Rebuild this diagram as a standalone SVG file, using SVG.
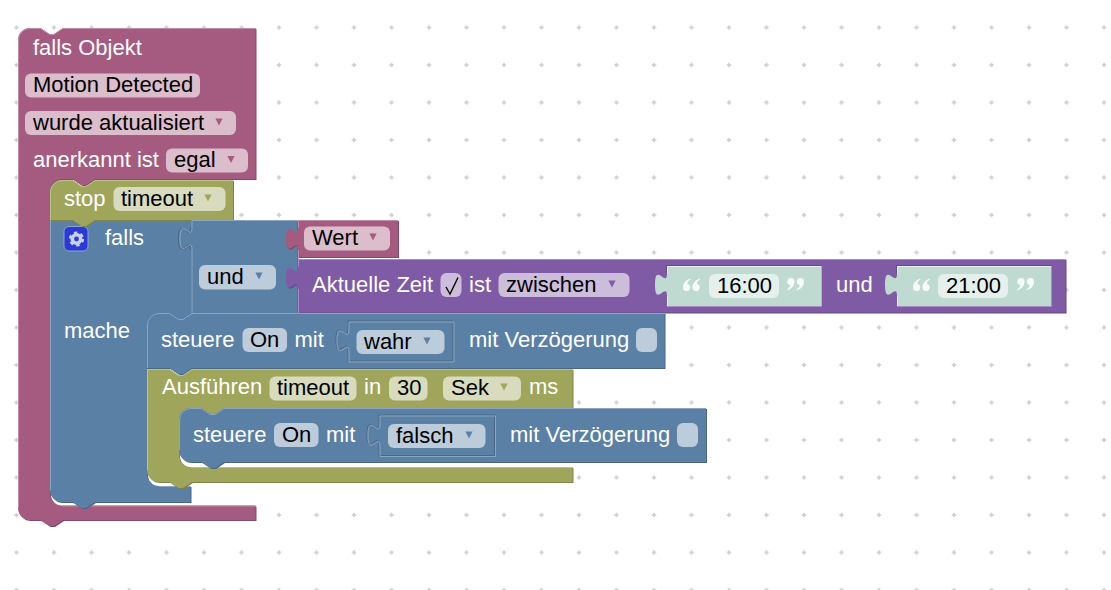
<svg xmlns="http://www.w3.org/2000/svg" width="1111" height="590" viewBox="0 0 1111 590">
<style>
text{font-family:"Liberation Sans",Arial,sans-serif;font-size:22px}
.t{fill:#fff}
.k{fill:#000}
.fld{fill:#fff;fill-opacity:.6}
.pink{fill:#a55b80}.pink-d{fill:#844966}.pink-l{fill:none;stroke:#c08ca6;stroke-width:1}
.blue{fill:#5b80a5}.blue-d{fill:#496684}.blue-l{fill:none;stroke:#8ca6c0;stroke-width:1}
.oliv{fill:#9fa55b}.oliv-d{fill:#7f8449}.oliv-l{fill:none;stroke:#bcc08c;stroke-width:1}
.purp{fill:#805ba5}.purp-d{fill:#664984}.purp-l{fill:none;stroke:#a68cc0;stroke-width:1}
.grn{fill:#bfdad0}.grn-l{fill:none;stroke:#e3efea;stroke-width:1}
.q{fill:#fff;fill-opacity:.85}
.dk{fill:none;stroke:#496684;stroke-width:1}
.pdk{fill:none;stroke:#664984;stroke-width:1}
.pli{fill:none;stroke:#a68cc0;stroke-width:1}
</style>
<defs>
<pattern id="grid" patternUnits="userSpaceOnUse" x="-2.25" y="8.75" width="37.5" height="37.5">
<path d="M16.5,18.75H21M18.75,16.5V21" stroke="#ccc" stroke-width="1.5" fill="none"/>
</pattern>
<path id="tri" d="M-3.6,-3.6H3.6L0,3.6Z"/>
<path id="qm" d="M7.3,0.5C3,2 0,5 0,9.5A3.6,3.6 0 1 0 4.4,6C4.4,4 5.6,2.6 7.6,1.6Z"/>
<g id="qo"><use href="#qm"/><use href="#qm" x="9.5"/></g>
<g id="qc"><use href="#qo" transform="rotate(180)"/></g>
<path id="s-hat" d="M18,40a12,12 0 0 1 12,-12H40.500l9,6h4.500l9,-6H255.500V179H95l-9,6h-4.500l-9,-6H62a12,12 0 0 0 -12,12V493.500a12,12 0 0 0 12,12H255.500V520H63l-9,6h-4.500l-9,-6H30a12,12 0 0 1 -12,-12Z"/>
<path id="s-stop" d="M50,192a12,12 0 0 1 12,-12H72.500l9,6h4.500l9,-6H233V220H95l-9,6h-4.500l-9,-6H50Z"/>
<path id="s-if" d="M50,220H191.500V313H192l-9,6h-4.500l-9,-6H159a12,12 0 0 0 -12,12V474a12,12 0 0 0 12,12H190.500V502H95l-9,6h-4.500l-9,-6H62a12,12 0 0 1 -12,-12Z"/>
<path id="s-und" d="M191.500,220H297.500V313H191.500V250c0,-15 -12,12 -12,-11.250s12,3.750 12,-11.250Z"/>
<path id="s-wert" d="M298,220H398V257H298V250c0,-15 -12,12 -12,-11.250s12,3.750 12,-11.250Z"/>
<path id="s-zeit" d="M298,259H1065.500V312.500H298V289c0,-15 -12,12 -12,-11.250s12,3.750 12,-11.250Z"/>
<path id="s-t1" d="M667,266H821.500V306H667V296c0,-15 -12,12 -12,-11.250s12,3.750 12,-11.250Z"/>
<path id="s-t2" d="M897,266H1051V306H897V296c0,-15 -12,12 -12,-11.250s12,3.750 12,-11.250Z"/>
<path id="s-ctl1" d="M147,325a12,12 0 0 1 12,-12H169.500l9,6h4.500l9,-6H664.500V368H192l-9,6h-4.500l-9,-6H147Z"/>
<path id="s-wahr" d="M349,322H454V362H349V352c0,-15 -12,12 -12,-11.250s12,3.750 12,-11.250Z"/>
<path id="s-exec" d="M147,369H169.500l9,6h4.500l9,-6H572.500V408H224l-9,6h-4.500l-9,-6H191a12,12 0 0 0 -12,12V455a12,12 0 0 0 12,12H572.500V482H192l-9,6h-4.500l-9,-6H159a12,12 0 0 1 -12,-12Z"/>
<path id="s-ctl2" d="M179,420a12,12 0 0 1 12,-12H201.500l9,6h4.500l9,-6H706V462H224l-9,6h-4.500l-9,-6H191a12,12 0 0 1 -12,-12Z"/>
<path id="s-falsch" d="M380,416H495.500V456.500H380V446.500c0,-15 -12,12 -12,-11.250s12,3.750 12,-11.250Z"/>
</defs>
<rect width="1111" height="590" fill="#fff"/>
<rect id="workspace-grid" width="1111" height="590" fill="url(#grid)"/>

<g id="block-falls-objekt">
<use href="#s-hat" class="pink-d" transform="translate(1,1)"/>
<use href="#s-hat" class="pink"/>
<path class="pink-l" d="M18.500,508V40a11.500,11.500 0 0 1 11.500,-11.500H40.500l9,6h4.500l9,-6H255.500M62,506H255.500"/>
<text class="t" x="33" y="55">falls Objekt</text>
<rect class="fld" x="25" y="73.500" width="175" height="24" rx="6"/>
<text class="k" x="33" y="92">Motion Detected</text>
<rect class="fld" x="25" y="111" width="211" height="24" rx="6"/>
<text class="k" x="33" y="129.500">wurde aktualisiert</text>
<use href="#tri" x="219" y="122" class="pink"/>
<text class="t" x="33" y="167">anerkannt ist</text>
<rect class="fld" x="166" y="148.500" width="82" height="24" rx="6"/>
<text class="k" x="174" y="167">egal</text>
<use href="#tri" x="231" y="159.500" class="pink"/>
</g>

<g id="block-falls">
<use href="#s-if" class="blue-d" transform="translate(1,1)"/>
<use href="#s-if" class="blue"/>
<path class="blue-l" d="M50.500,490V220.500H191M159,486.500H190"/>
<rect x="64" y="226.500" width="24" height="24.500" rx="5" fill="#2a38dc" stroke="#8ca6c0" stroke-width="1"/>
<circle cx="76.500" cy="239" r="4.200" fill="none" stroke="#c5d3e3" stroke-width="3.600"/>
<circle cx="76.500" cy="239" r="6.400" fill="none" stroke="#c5d3e3" stroke-width="2.400" stroke-dasharray="3.400 3.300"/>
<text class="t" x="105" y="245">falls</text>
<text class="t" x="64" y="338">mache</text>
</g>

<g id="block-stop">
<use href="#s-stop" class="oliv-d" transform="translate(1,1)"/>
<use href="#s-stop" class="oliv"/>
<path class="oliv-l" d="M50.500,220V192a11.500,11.500 0 0 1 11.500,-11.500H72.500l9,6h4.500l9,-6H232.500"/>
<text class="t" x="64" y="206">stop</text>
<rect class="fld" x="113.500" y="187" width="112" height="24" rx="6"/>
<text class="k" x="121" y="205.500">timeout</text>
<use href="#tri" x="208" y="198" class="oliv"/>
</g>

<g id="block-und">
<use href="#s-und" class="blue-d" transform="translate(1,1)"/>
<use href="#s-und" class="blue"/>
<path class="dk" d="M190.500,250c0,-15 -12,12 -12,-11.250s12,3.750 12,-11.250"/>
<path class="blue-l" d="M192,250V313M192,227.500V220.500H297M192,250c0,-15 -12,12 -12,-11.250s12,3.750 12,-11.250"/>
<rect class="fld" x="199" y="265" width="77" height="24.500" rx="6"/>
<text class="k" x="207" y="284">und</text>
<use href="#tri" x="259" y="276" class="blue"/>
</g>

<g id="block-wert">
<use href="#s-wert" class="pink-d" transform="translate(1,1)"/>
<use href="#s-wert" class="pink"/>
<path class="pink-l" d="M298.500,227.500V220.500H398M298.500,258V250"/>
<rect class="fld" x="304" y="226.500" width="86" height="24" rx="6"/>
<text class="k" x="312" y="245">Wert</text>
<use href="#tri" x="373" y="237" class="pink"/>
</g>

<g id="block-aktuelle-zeit">
<use href="#s-zeit" class="purp-d" transform="translate(1,1)"/>
<use href="#s-zeit" class="purp"/>
<path class="purp-l" d="M298.500,266.500V259.500H1065.500M298.500,313V289"/>
<text class="t" x="312" y="292">Aktuelle Zeit</text>
<rect class="fld" x="440.500" y="273" width="21" height="24" rx="6"/>
<path d="M446,287L450,294L458,277.500" fill="none" stroke="#000" stroke-width="1.400"/>
<text class="t" x="469" y="292">ist</text>
<rect class="fld" x="498.500" y="273" width="131" height="24" rx="6"/>
<text class="k" x="506" y="292">zwischen</text>
<use href="#tri" x="612" y="284" class="purp"/>
<text class="t" x="836" y="292">und</text>
</g>

<g id="block-text-1600">
<path class="pdk" d="M821.500,265.500H666.500V273"/>
<path class="pli" d="M667,306.500H821.500V266"/>
<use href="#s-t1" class="grn"/>
<path class="grn-l" d="M667.500,273.500V266.500H821M667.500,306V296"/>
<use href="#qo" x="683" y="278" class="q"/>
<rect class="fld" x="709" y="274" width="70" height="24" rx="6"/>
<text class="k" x="717" y="292.500">16:00</text>
<use href="#qc" x="804" y="291" class="q"/>
</g>

<g id="block-text-2100">
<path class="pdk" d="M1051,265.500H896.500V273"/>
<path class="pli" d="M897,306.500H1051.500V266"/>
<use href="#s-t2" class="grn"/>
<path class="grn-l" d="M897.500,273.500V266.500H1051M897.500,306V296"/>
<use href="#qo" x="913" y="278" class="q"/>
<rect class="fld" x="938" y="274" width="70" height="24" rx="6"/>
<text class="k" x="946" y="292.500">21:00</text>
<use href="#qc" x="1034" y="291" class="q"/>
</g>

<g id="block-steuere-on">
<use href="#s-ctl1" class="blue-d" transform="translate(1,1)"/>
<use href="#s-ctl1" class="blue"/>
<path class="blue-l" d="M147.500,368V325a11.500,11.500 0 0 1 11.500,-11.500H169.500l9,6h4.500l9,-6H664.500"/>
<text class="t" x="161" y="347">steuere</text>
<rect class="fld" x="242.500" y="328" width="44.500" height="24" rx="6"/>
<text class="k" x="250" y="347">On</text>
<text class="t" x="294.500" y="347">mit</text>
<text class="t" x="469" y="347">mit Verzögerung</text>
<rect class="fld" x="636" y="328" width="21" height="24" rx="6"/>
</g>

<g id="block-wahr">
<use href="#s-wahr" class="blue"/>
<use href="#s-wahr" class="dk" transform="translate(-1,-1)"/>
<use href="#s-wahr" class="blue-l"/>
<rect class="fld" x="356.500" y="330" width="88" height="24" rx="6"/>
<text class="k" x="364" y="348.500">wahr</text>
<use href="#tri" x="427" y="341" class="blue"/>
</g>

<g id="block-ausfuehren">
<use href="#s-exec" class="oliv-d" transform="translate(1,1)"/>
<use href="#s-exec" class="oliv"/>
<path class="oliv-l" d="M147.500,470V369.500H169.500l9,6h4.500l9,-6H572.500M191,467.500H572.500"/>
<text class="t" x="162" y="394">Ausführen</text>
<rect class="fld" x="269.500" y="376.500" width="87" height="24" rx="6"/>
<text class="k" x="277" y="395">timeout</text>
<text class="t" x="364" y="394">in</text>
<rect class="fld" x="389" y="376.500" width="38.500" height="24" rx="6"/>
<text class="k" x="397" y="395">30</text>
<rect class="fld" x="443" y="376.500" width="78" height="24" rx="6"/>
<text class="k" x="451" y="395">Sek</text>
<use href="#tri" x="504" y="387" class="oliv"/>
<text class="t" x="529" y="394">ms</text>
</g>

<g id="block-steuere-on-2">
<use href="#s-ctl2" class="blue-d" transform="translate(1,1)"/>
<use href="#s-ctl2" class="blue"/>
<path class="blue-l" d="M179.500,450V420a11.500,11.500 0 0 1 11.500,-11.500H201.500l9,6h4.500l9,-6H705.500"/>
<text class="t" x="193" y="442">steuere</text>
<rect class="fld" x="274" y="423" width="44.500" height="24" rx="6"/>
<text class="k" x="282" y="442">On</text>
<text class="t" x="326" y="442">mit</text>
<text class="t" x="510" y="442">mit Verzögerung</text>
<rect class="fld" x="677" y="423" width="21" height="24" rx="6"/>
</g>

<g id="block-falsch">
<use href="#s-falsch" class="blue"/>
<use href="#s-falsch" class="dk" transform="translate(-1,-1)"/>
<use href="#s-falsch" class="blue-l"/>
<rect class="fld" x="388" y="424" width="97.500" height="24" rx="6"/>
<text class="k" x="396" y="442.500">falsch</text>
<use href="#tri" x="469" y="435" class="blue"/>
</g>
</svg>
